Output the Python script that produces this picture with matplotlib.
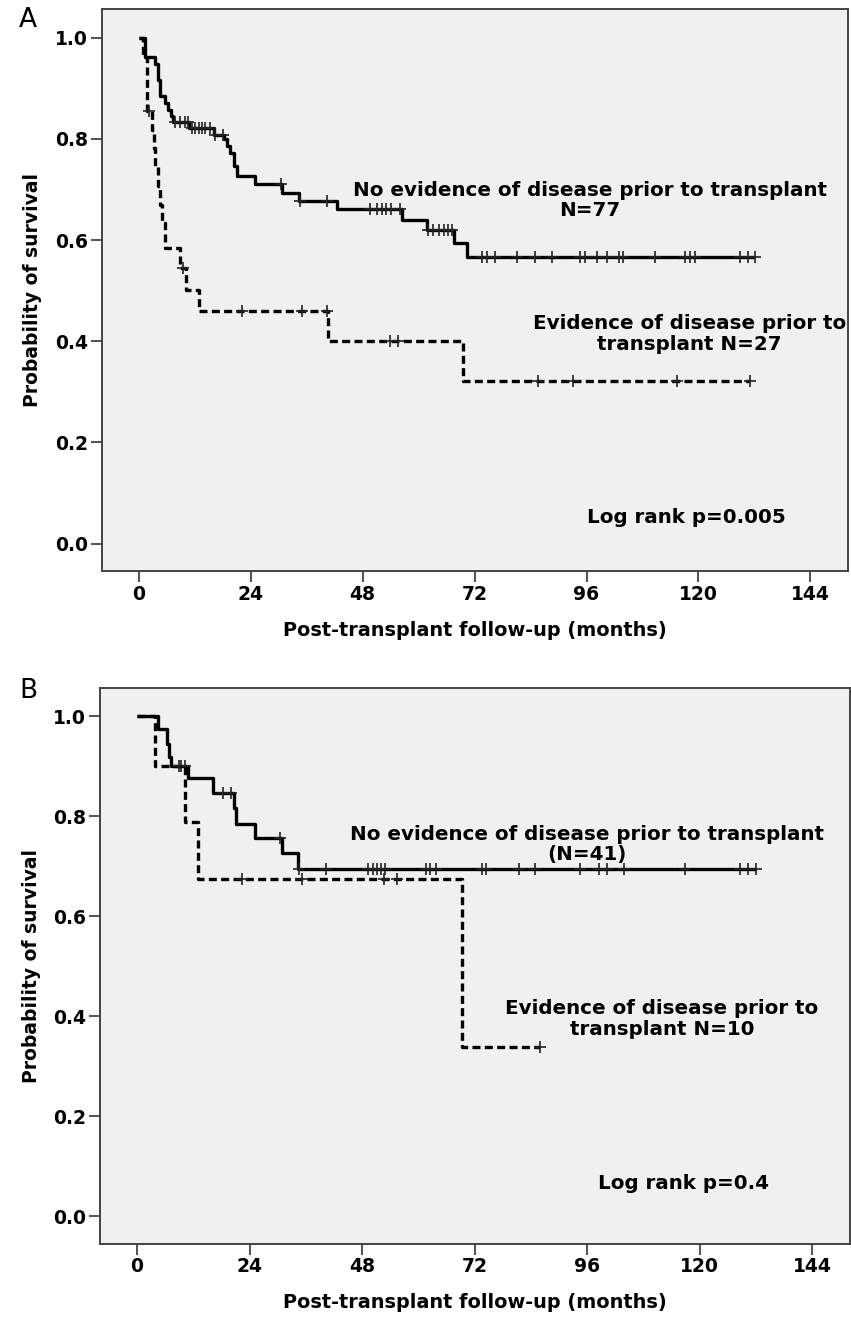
import numpy as np
import matplotlib
matplotlib.use('Agg')
import matplotlib.pyplot as plt

# panel A: no evidence of disease (N=77), step curve
noev_a_t = [0, 1.4, 3.6, 4.1, 4.6, 5.7, 6.4, 6.9, 7.4, 10.9, 16.1, 18.4, 19.0, 19.7, 20.5, 21.1,
            25.0, 30.7, 34.3, 42.5, 56.4, 61.8, 67.5, 70.4, 132.1]
noev_a_s = [1.0, 0.962, 0.948, 0.917, 0.884, 0.871, 0.858, 0.845, 0.833, 0.822, 0.807, 0.799, 0.785,
            0.772, 0.746, 0.726, 0.711, 0.693, 0.678, 0.661, 0.640, 0.620, 0.594, 0.567, 0.567]
noev_a_cens = [7.9, 8.9, 10.0, 10.5, 11.4, 12.1, 12.9, 13.6, 14.3, 15.4, 16.4, 18.2, 30.5, 34.5, 40.4,
               49.6, 51.0, 52.1, 53.1, 54.2, 56.1, 62.1, 63.2, 64.3, 65.4, 66.4, 67.2, 73.6, 74.7, 76.4,
               81.1, 85.0, 88.6, 94.6, 95.7, 98.2, 100.4, 102.9, 103.9, 110.7, 117.1, 118.2, 119.3,
               128.9, 130.7, 132.1]

# panel A: evidence of disease (N=27)
ev_a_t = [0, 0.95, 1.8, 2.9, 3.3, 3.6, 4.1, 4.6, 5.1, 5.6, 8.9, 10.2, 13.0, 40.7, 69.6, 131.1]
ev_a_s = [1.0, 0.962, 0.855, 0.818, 0.781, 0.744, 0.707, 0.670, 0.633, 0.584, 0.545, 0.502, 0.459,
          0.401, 0.322, 0.322]
ev_a_cens = [2.2, 9.6, 22.1, 35.0, 40.4, 53.9, 55.7, 85.7, 93.2, 115.4, 131.1]

# panel B: no evidence of disease (N=41)
noev_b_t = [0, 4.4, 6.4, 6.8, 7.3, 10.9, 16.2, 20.7, 21.1, 25.1, 30.9, 34.3, 132.1]
noev_b_s = [1.0, 0.975, 0.945, 0.919, 0.900, 0.877, 0.847, 0.816, 0.785, 0.757, 0.727, 0.694, 0.694]
noev_b_cens = [9.4, 10.3, 18.4, 20.1, 30.6, 34.5, 40.3, 49.2, 50.3, 51.3, 52.0, 53.0, 61.6, 62.6,
               63.7, 73.6, 74.5, 81.4, 85.0, 94.6, 98.5, 100.3, 103.9, 116.9, 128.6, 130.4, 132.1]

# panel B: evidence of disease (N=10)
ev_b_t = [0, 3.8, 10.3, 13.0, 69.4, 86.0]
ev_b_s = [1.0, 0.9, 0.7875, 0.675, 0.3375, 0.3375]
ev_b_cens = [9.0, 22.3, 35.1, 52.6, 55.4, 86.0]

xticks = [0, 24, 48, 72, 96, 120, 144]
yticks = [0.0, 0.2, 0.4, 0.6, 0.8, 1.0]

FS = 14.3
LSP = 1.1


def surv_at(t, times, surv):
    idx = np.searchsorted(times, t, side='right') - 1
    return np.array(surv)[idx]


def km(ax, times, surv, cens, ls):
    ax.step(times, surv, where='post', color='black', lw=2.4, linestyle=ls,
            solid_capstyle='butt', dash_capstyle='butt')
    ax.plot(cens, surv_at(cens, times, surv), linestyle='none', marker='+',
            ms=8, mew=1.2, color='#222222')


def style(ax):
    ax.set_facecolor('#f0f0f0')
    ax.set_xlim(-7.9, 152.1)
    ax.set_ylim(-0.055, 1.056)
    ax.set_xticks(xticks)
    ax.set_yticks(yticks)
    ax.set_yticklabels(['%.1f' % v for v in yticks])
    for sp in ax.spines.values():
        sp.set_color('#444444')
        sp.set_linewidth(1.4)
    ax.tick_params(direction='out', length=8, width=1.3, color='#444444', pad=2,
                   labelsize=13.5)
    for lab in ax.get_xticklabels() + ax.get_yticklabels():
        lab.set_fontweight('bold')
    ax.set_xlabel('Post-transplant follow-up (months)', fontsize=13.9, fontweight='bold', labelpad=12)
    ax.set_ylabel('Probability of survival', fontsize=13.5, fontweight='semibold', labelpad=9)


fig = plt.figure(figsize=(8.51, 13.18), dpi=100)
axA = fig.add_axes([0.1195, 0.5665, 0.8773, 0.4264])
axB = fig.add_axes([0.1175, 0.0565, 0.8813, 0.4213])

km(axA, noev_a_t, noev_a_s, noev_a_cens, '-')
km(axA, ev_a_t, ev_a_s, ev_a_cens, (0, (2.4, 1.3)))
style(axA)
axA.text(96.7, 0.678, 'No evidence of disease prior to transplant\nN=77', ha='center', va='center',
         fontsize=FS, fontweight='bold', linespacing=LSP)
axA.text(118.1, 0.414, 'Evidence of disease prior to\ntransplant N=27', ha='center', va='center',
         fontsize=FS, fontweight='bold', linespacing=LSP)
axA.text(117.4, 0.052, 'Log rank p=0.005', ha='center', va='center', fontsize=FS, fontweight='bold')

km(axB, noev_b_t, noev_b_s, noev_b_cens, '-')
km(axB, ev_b_t, ev_b_s, ev_b_cens, (0, (2.4, 1.3)))
style(axB)
axB.text(96.0, 0.743, 'No evidence of disease prior to transplant\n(N=41)', ha='center', va='center',
         fontsize=FS, fontweight='bold', linespacing=LSP)
axB.text(112.0, 0.394, 'Evidence of disease prior to\ntransplant N=10', ha='center', va='center',
         fontsize=FS, fontweight='bold', linespacing=LSP)
axB.text(116.6, 0.065, 'Log rank p=0.4', ha='center', va='center', fontsize=FS, fontweight='bold')

fig.text(0.033, 0.985, 'A', fontsize=19, ha='center', va='center')
fig.text(0.033, 0.476, 'B', fontsize=19, ha='center', va='center')

fig.savefig('out.png', dpi=100)
